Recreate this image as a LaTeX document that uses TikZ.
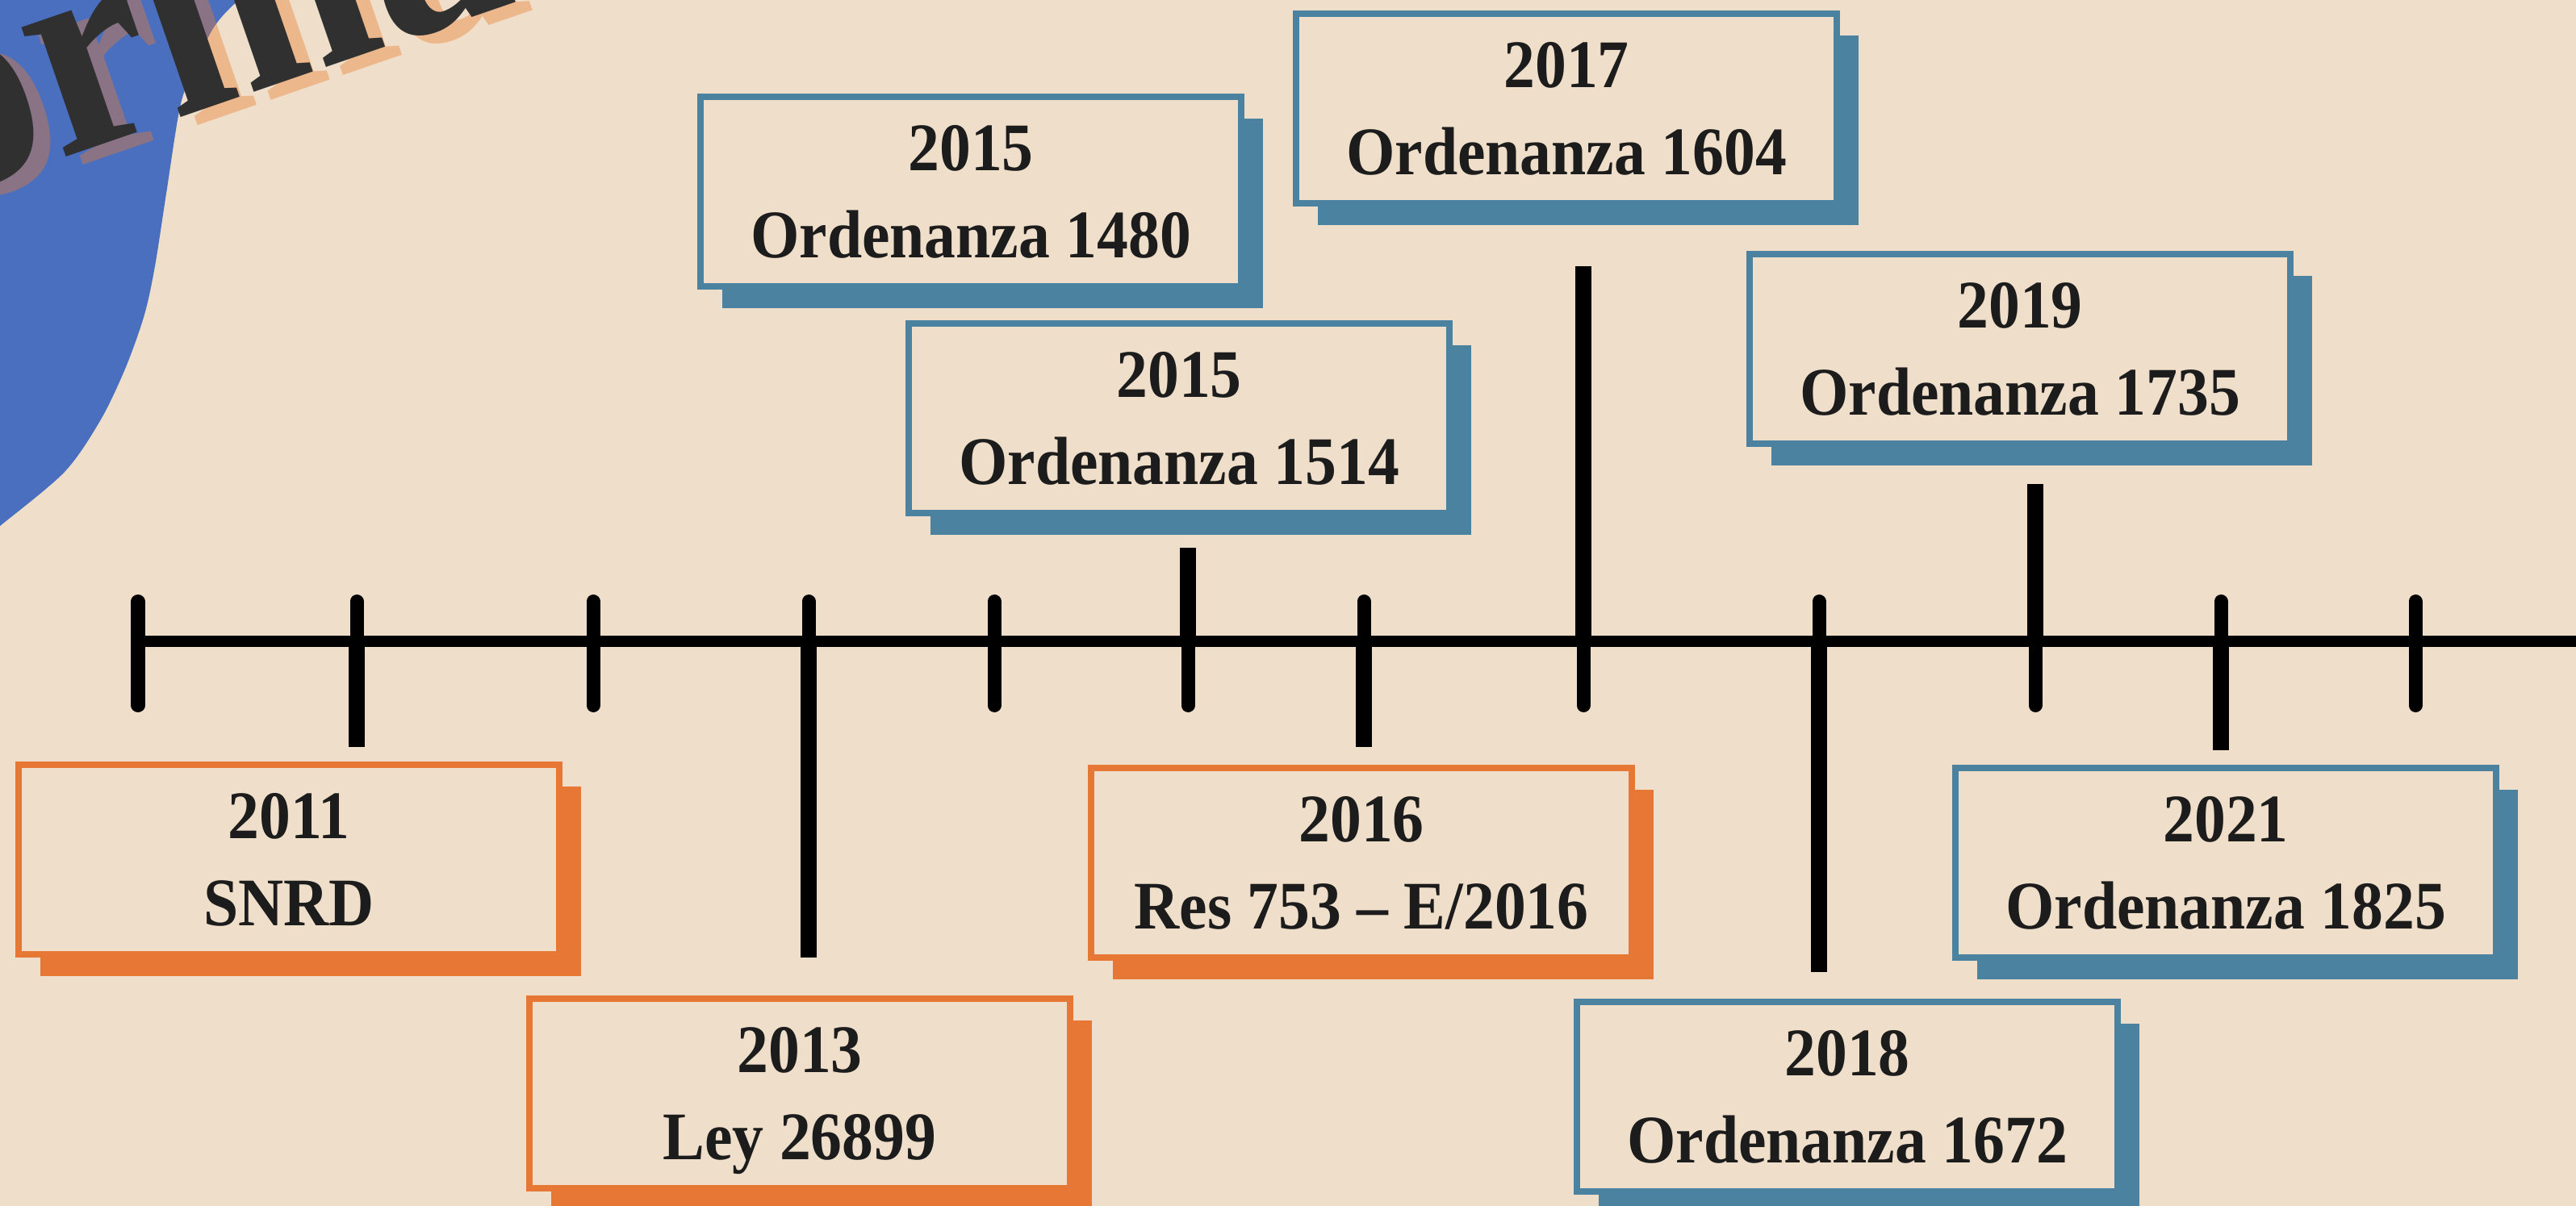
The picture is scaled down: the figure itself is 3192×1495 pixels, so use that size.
\documentclass[tikz,border=0pt]{standalone}
\usepackage{fontspec}
\usetikzlibrary{shadows}
\newfontfamily\boxfont[FakeStretch=0.92,Ligatures=TeX]{Liberation Serif}
\definecolor{cream}{RGB}{239,223,202}
\definecolor{blobblue}{RGB}{74,111,191}
\definecolor{boxorange}{RGB}{230,119,52}
\definecolor{boxblue}{RGB}{74,130,160}
\definecolor{ink}{RGB}{28,28,28}
\definecolor{titleink}{RGB}{48,48,48}
\definecolor{titleshade}{RGB}{234,123,47}
\tikzset{
    evbox/.style={draw, line width=0.085cm, fill=cream, minimum width=6.695cm, minimum height=2.345cm,
            inner sep=0pt, outer sep=0pt, align=center, text=ink, text depth=0pt,
            font=\boxfont\bfseries\fontsize{24}{30.7}\selectfont},
    orangebox/.style={evbox, draw=boxorange,
            drop shadow={shadow xshift=0.27cm, shadow yshift=-0.27cm, fill=boxorange, opacity=1}},
    bluebox/.style={evbox, draw=boxblue,
            drop shadow={shadow xshift=0.27cm, shadow yshift=-0.27cm, fill=boxblue, opacity=1}},
    mainline/.style={line width=0.14cm, black},
    tickline/.style={line width=0.17cm, black, line cap=round},
    stemline/.style={line width=0.2cm, black},
    titletext/.style={anchor=base west, rotate=19, inner sep=0pt,
            font=\boxfont\bfseries\fontsize{105}{110}\selectfont},
}
\begin{document}
\begin{tikzpicture}[x=0.01cm, y=-0.01cm]
    %page and background
    \useasboundingbox (0,0) rectangle (3192,1495);
    \clip (0,0) rectangle (3192,1495);
    \fill[cream] (0,0) rectangle (3192,1495);
    %blue blob in the corner
    \fill[blobblue] plot[smooth] coordinates {(320,-20) (285,10) (263,37) (240,85) (223,133) (206,240)
        (192,330) (179,390) (156,455) (125,520) (80,585) (0,652) (-20,668)} -- (-20,-20) -- cycle;
    %title and its shadow
    \node[titletext, text=titleshade, text opacity=0.4] (titleshadow) at (-299,343) {Normativa};
    \node[titletext, text=titleink] (title) at (-320,333) {Normativa};
    %ticks of the time line
    \foreach \tx [count=\i] in {171,442,735,1002,1232,1472,1690,1962,2254,2522,2752,2993}{
        \coordinate (t\i) at (\tx,795);
        \draw[tickline] (t\i) ++(0,-49.5) -- ++(0,129);
    }
    %time line
    \coordinate (lineend) at (3200,795);
    \draw[mainline] (t1) -- (lineend);
    %boxes below the line
    \node[orangebox] (y2011) at (358,1065.5) {2011\\SNRD};
    \node[orangebox] (y2013) at (991,1355.5) {2013\\Ley 26899};
    \node[orangebox] (y2016) at (1687,1069.5) {2016\\Res 753 – E/2016};
    \node[bluebox] (y2018) at (2289,1359.5) {2018\\Ordenanza 1672};
    \node[bluebox] (y2021) at (2758,1069.5) {2021\\Ordenanza 1825};
    %boxes above the line
    \node[bluebox] (y2015a) at (1203,237.5) {2015\\Ordenanza 1480};
    \node[bluebox] (y2015b) at (1461,518.5) {2015\\Ordenanza 1514};
    \node[bluebox] (y2017) at (1941,134.5) {2017\\Ordenanza 1604};
    \node[bluebox] (y2019) at (2503,432.5) {2019\\Ordenanza 1735};
    %stems from the ticks to the boxes
    \draw[stemline, shorten >=0.22cm] (t2) -- (t2 |- y2011.north);
    \draw[stemline, shorten >=0.51cm] (t4) -- (t4 |- y2013.north);
    \draw[stemline, shorten >=0.43cm] (t6) -- (t6 |- y2015b.south);
    \draw[stemline, shorten >=0.26cm] (t7) -- (t7 |- y2016.north);
    \draw[stemline, shorten >=0.78cm] (t8) -- (t8 |- y2017.south);
    \draw[stemline, shorten >=0.37cm] (t9) -- (t9 |- y2018.north);
    \draw[stemline, shorten >=0.50cm] (t10) -- (t10 |- y2019.south);
    \draw[stemline, shorten >=0.22cm] (t11) -- (t11 |- y2021.north);
\end{tikzpicture}
\end{document}
